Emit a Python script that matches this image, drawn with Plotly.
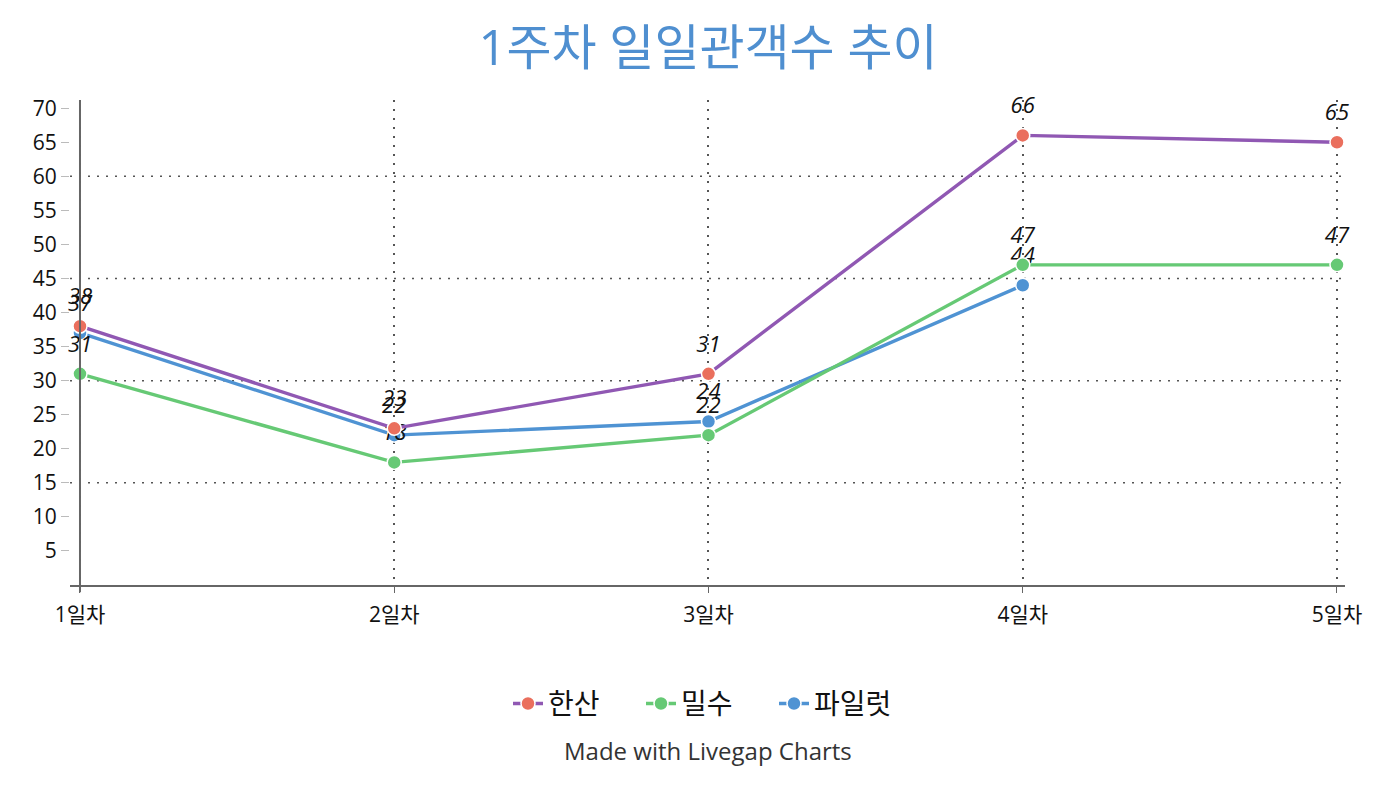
import plotly.graph_objects as go

days = ['1일차', '2일차', '3일차', '4일차', '5일차']
hansan = [38, 23, 31, 66, 65]
milsu = [31, 18, 22, 47, 47]
pilot = [37, 22, 24, 44, None]
y_ticks = [5, 10, 15, 20, 25, 30, 35, 40, 45, 50, 55, 60, 65, 70]
y_grid = [15, 30, 45, 60]

font = 'Open Sans, Noto Sans CJK KR, sans-serif'
x_pos = list(range(len(days)))


def series(name, values, line_color, marker_color):
    line = go.Scatter(
        x=x_pos, y=values, name=name, mode='lines+markers',
        line=dict(color=line_color, width=3.4),
        marker=dict(color=marker_color, size=14, line=dict(color='white', width=1.5)),
        cliponaxis=False, connectgaps=False, legendgroup=name,
    )
    # value labels, lifted by an invisible marker
    labels = go.Scatter(
        x=x_pos, y=values, mode='markers+text', showlegend=False, hoverinfo='skip',
        text=[v if v is not None else '' for v in values],
        textposition='top center',
        textfont=dict(family=font, size=22, color='#111', style='italic'),
        marker=dict(color='rgba(0,0,0,0)', size=25),
        cliponaxis=False, legendgroup=name,
    )
    return [line, labels]


fig = go.Figure()
# drawn blue -> green -> red so the later markers sit on top
fig.add_traces(series('파일럿', pilot, '#4f93d3', '#4f93d3'))
fig.add_traces(series('밀수', milsu, '#66c975', '#66c975'))
fig.add_traces(series('한산', hansan, '#9058b3', '#ea6f5d'))

for g in y_grid:
    fig.add_shape(type='line', xref='paper', x0=0, x1=1, y0=g, y1=g,
                  line=dict(color='#555', width=1.5, dash='2px,7px'), layer='below')

fig.add_shape(type='line', xref='x', yref='paper', x0=0, x1=0, y0=-0.015, y1=1,
              line=dict(color='#666', width=2))

fig.add_annotation(text='Made with Livegap Charts', xref='paper', yref='paper',
                   x=0.5, y=-0.379, showarrow=False,
                   font=dict(family=font, size=24, color='#333'))

fig.update_layout(
    width=1400, height=789,
    paper_bgcolor='white', plot_bgcolor='white',
    margin=dict(l=62, r=63, t=92, b=212),
    title=dict(text='1주차 일일관객수 추이', x=0.5, xanchor='center', y=0.949,
               yanchor='middle', font=dict(family=font, size=49, color='#4f8fd0')),
    legend=dict(orientation='h', x=0.5, xanchor='center', y=-0.245, yanchor='middle',
                traceorder='reversed', font=dict(family=font, size=28, color='#111'),
                itemwidth=30, entrywidth=88),
    showlegend=True,
)

fig.update_xaxes(
    range=[-0.0318, 4.0255], tickvals=x_pos, ticktext=days,
    showgrid=True, gridcolor='#555', gridwidth=1.5, griddash='2px,7px',
    showline=True, linecolor='#666', linewidth=2,
    ticks='outside', ticklen=6, tickcolor='#666', ticklabelstandoff=4,
    tickfont=dict(family=font, size=21, color='#111'), zeroline=False,
)
fig.update_yaxes(
    range=[0, 71.2], tickvals=y_ticks, showgrid=False, zeroline=False,
    ticks='outside', ticklen=8, tickcolor='#bbb',
    tickfont=dict(family=font, size=21, color='#111'),
)

fig.write_html('out.html')
